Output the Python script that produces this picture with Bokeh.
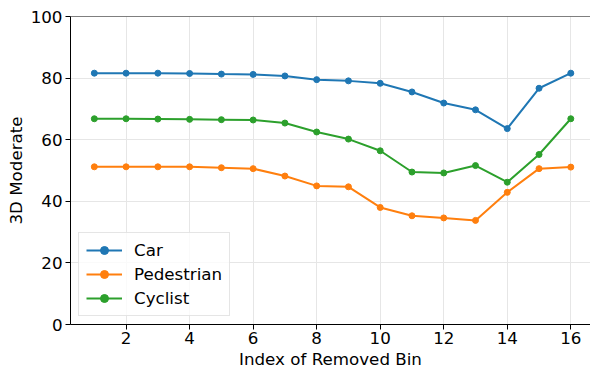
from bokeh.plotting import figure
from bokeh.models import Range1d, FixedTicker, Legend, Span
from bokeh.embed import file_html
from bokeh.resources import INLINE

bins = list(range(1, 17))
car = [81.6, 81.6, 81.6, 81.5, 81.3, 81.2, 80.7, 79.5, 79.1, 78.3, 75.5, 71.9, 69.7, 63.6, 76.7, 81.6]
pedestrian = [51.2, 51.2, 51.2, 51.2, 50.9, 50.6, 48.2, 45.0, 44.7, 38.0, 35.3, 34.6, 33.8, 42.9, 50.6, 51.1]
cyclist = [66.8, 66.8, 66.7, 66.6, 66.5, 66.4, 65.4, 62.5, 60.2, 56.4, 49.5, 49.2, 51.6, 46.2, 55.2, 66.8]
series_names = ["Car", "Pedestrian", "Cyclist"]
series_values = [car, pedestrian, cyclist]
colors = ["#1f77b4", "#ff7f0e", "#2ca02c"]
x_ticks = [2, 4, 6, 8, 10, 12, 14, 16]
y_ticks = [0, 20, 40, 60, 80, 100]

FONT = "DejaVu Sans"
FS = "16.7px"

p = figure(width=590, height=371, output_backend="svg", toolbar_location=None,
           x_range=Range1d(0.25, 16.62), y_range=Range1d(0, 100),
           min_border_left=70, min_border_right=0, min_border_top=16, min_border_bottom=46)
p.outline_line_color = None
p.background_fill_color = "white"
p.border_fill_color = "white"

p.xgrid.ticker = FixedTicker(ticks=x_ticks)
p.ygrid.ticker = FixedTicker(ticks=y_ticks)
p.grid.grid_line_color = "#e6e6e6"
p.grid.grid_line_width = 1

top_spine = Span(location=100, dimension="width", line_color="black", line_width=1)
p.add_layout(top_spine)

items = []
for name, vals, c in zip(series_names, series_values, colors):
    l = p.line(bins, vals, line_color=c, line_width=2)
    s = p.scatter(bins, vals, size=6, fill_color=c, line_color=c)
    items.append((name, [l, s]))

legend = Legend(items=items, location=(8, 8), margin=0, padding=7, spacing=4,
                glyph_width=36, glyph_height=20, label_standoff=12,
                label_text_font=FONT, label_text_font_size=FS, label_height=20,
                label_text_color="black",
                border_line_color="#cccccc", border_line_width=1,
                background_fill_color="white", background_fill_alpha=0.8)
p.add_layout(legend, "center")

for ax in (p.xaxis[0], p.yaxis[0]):
    ax.axis_line_color = "black"
    ax.axis_line_width = 1
    ax.major_tick_line_color = "black"
    ax.major_tick_out = 5
    ax.major_tick_in = 0
    ax.minor_tick_line_color = None
    ax.major_label_text_font = FONT
    ax.major_label_text_font_size = FS
    ax.major_label_text_color = "black"
    ax.axis_label_text_font = FONT
    ax.axis_label_text_font_size = FS
    ax.axis_label_text_font_style = "normal"
    ax.axis_label_text_color = "black"
    ax.major_label_standoff = 3

p.xaxis[0].ticker = FixedTicker(ticks=x_ticks)
p.yaxis[0].ticker = FixedTicker(ticks=y_ticks)
p.xaxis[0].axis_label = "Index of Removed Bin"
p.yaxis[0].axis_label = "3D Moderate"
p.xaxis[0].axis_label_standoff = 2
p.xaxis[0].major_label_standoff = 2
p.yaxis[0].axis_label_standoff = 2

open("out.html", "w").write(file_html(p, INLINE))
